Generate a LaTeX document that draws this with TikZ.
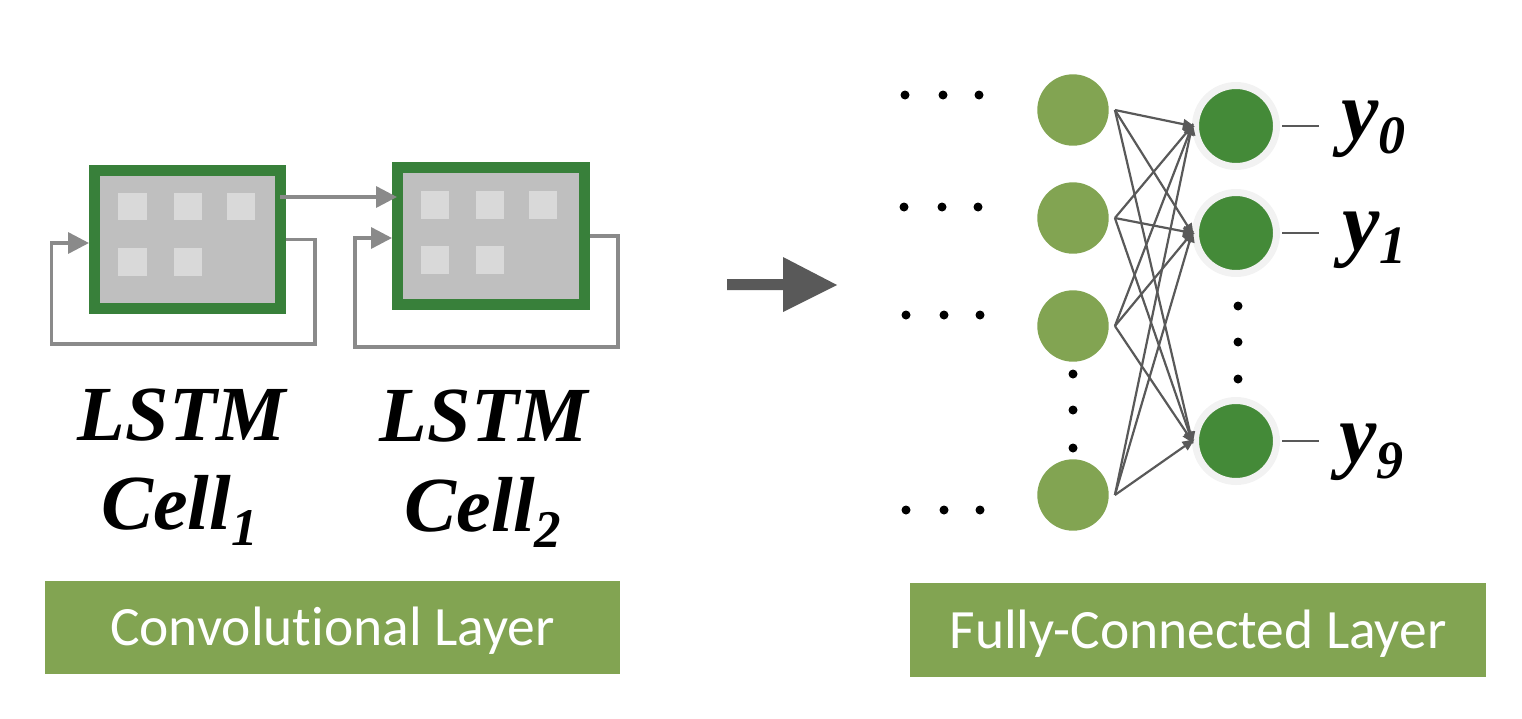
\documentclass[tikz,border=0pt]{standalone}
\usepackage{fontspec}
\setmainfont{Liberation Serif}
\newfontfamily\boxfont[Ligatures=NoCommon]{Carlito}
\usetikzlibrary{arrows.meta,calc}
\definecolor{cellgreen}{HTML}{38803A}
\definecolor{cellgray}{HTML}{BFBFBF}
\definecolor{sqgray}{HTML}{D9D9D9}
\definecolor{loopgray}{HTML}{8A8A8A}
\definecolor{olivegreen}{HTML}{82A452}
\definecolor{darkgreen}{HTML}{448A38}
\definecolor{ringgray}{HTML}{F2F2F2}
\definecolor{arrowgray}{HTML}{595959}
\newcommand\lowsub[3]{\raisebox{-#1pt}{\fontsize{#2}{#2}\selectfont #3}}
\begin{document}
\begin{tikzpicture}[x=1pt,y=-1pt,
  cell/.style={rectangle, draw=cellgreen, line width=11pt, fill=cellgray, inner sep=0pt},
  sq/.style={fill=sqgray},
  loopline/.style={draw=loopgray, line width=3.5pt, -{Triangle[length=21pt,width=21pt]}},
  lab/.style={font=\fontsize{78}{90}\selectfont\bfseries\itshape, inner sep=0pt},
  ylab/.style={font=\fontsize{84}{90}\selectfont\bfseries\itshape, inner sep=0pt},
  layerbox/.style={rectangle, fill=olivegreen, inner sep=0pt, text=white,
     font=\boxfont\fontsize{55.5}{60}\selectfont, text height=36pt, text depth=0pt},
  dotmark/.style={fill=black},
  lc/.style={circle, fill=olivegreen, minimum size=71.4pt, inner sep=0pt},
  rc/.style={circle, draw=ringgray, line width=7pt, fill=darkgreen, minimum size=81pt, inner sep=0pt},
  fcline/.style={draw=arrowgray, line width=2.2pt, -{Triangle[length=12pt,width=10pt]}, shorten >=-3pt},
  outline/.style={draw=arrowgray, line width=2.5pt}
]
\useasboundingbox (0,0) rectangle (1522,718);

% LSTM cells
\node[cell, minimum width=186pt, minimum height=138pt] (c1) at (187.5,239.5) {};
\node[cell, minimum width=187pt, minimum height=137pt] (c2) at (491,236) {};
% squares cell 1
\fill[sq] (118,193) rectangle (147,220);
\fill[sq] (174,193) rectangle (202,220);
\fill[sq] (227,193) rectangle (255,220);
\fill[sq] (118,248) rectangle (147,276);
\fill[sq] (174,248) rectangle (202,276);
% squares cell 2
\fill[sq] (421,191) rectangle (449,219);
\fill[sq] (476,191) rectangle (504,219);
\fill[sq] (529,191) rectangle (557,219);
\fill[sq] (421,246) rectangle (449,274);
\fill[sq] (476,246) rectangle (504,274);

% arrows around cells
\path (c1.north east) ++(-6,32) coordinate (o12);
\draw[loopline, shorten >=-5pt] (o12) -- (c2.west |- o12);
\draw[loopline] (c1.east) -| (315,344) -| (51.5,243) -- ([yshift=-3.5pt]c1.west);
\draw[loopline] (c2.east) -| (618,347) -| (355,238) -- ([yshift=-2pt]c2.west);

% labels
\node[lab, anchor=base] (lstm1) at (182,440) {LSTM};
\node[lab, anchor=base] (cell1) at (179.5,529) {Cell\lowsub{16}{53}{1}};
\node[lab, anchor=base] (lstm2) at (484,441) {LSTM};
\node[lab, anchor=base] (cell2) at (483,531) {Cell\lowsub{16}{53}{2}};

% layer boxes
\node[layerbox, minimum width=575pt, minimum height=93pt] (conv) at (332.5,627.5) {Convolutional Layer};
\node[layerbox, minimum width=575.5pt, minimum height=94pt] (fc) at (1198,630) {Fully-Connected Layer};

% big arrow
\fill[arrowgray] (727,279) -- (783,279) -- (783,257) -- (837,285) -- (783,312) -- (783,290) -- (727,290) -- cycle;

% horizontal dots
\foreach \yy/\dx in {95/0,207/-1,315/1,510/1}{
  \foreach \xx in {905,943,979}{
    \fill[dotmark] (\xx+\dx,\yy) circle (4.5);
  }
}

% circles
\node[lc] (l1) at (1073,110) {};
\node[lc] (l2) at (1073,218) {};
\node[lc] (l3) at (1073,326) {};
\node[lc] (l4) at (1073,495) {};
\node[rc] (r0) at (1236,126) {};
\node[rc] (r1) at (1236,233) {};
\node[rc] (r9) at (1236,441) {};

% vertical dots
\foreach \yy in {374,410,448}{ \fill[dotmark] (1073,\yy) circle (4.5); }
\foreach \yy in {306,342,379}{ \fill[dotmark] (1238,\yy) circle (4.5); }

% connections
\foreach \a in {l1,l2,l3,l4}{
  \foreach \b in {r0,r1,r9}{
    \draw[fcline] ([xshift=6pt]\a.east) -- (\b.west);
  }
}

% outputs
\node[ylab, anchor=base west] (t0) at (1341,139) {y\lowsub{14}{54}{0}};
\node[ylab, anchor=base west] (t1) at (1342,250) {y\lowsub{13}{54}{1}};
\node[ylab, anchor=base west] (t9) at (1339,462) {y\lowsub{16}{54}{9}};
\draw[outline, shorten <=2pt, shorten >=22pt] (r0.east) -- (r0.east -| t0.west);
\draw[outline, shorten <=2pt, shorten >=23pt] (r1.east) -- (r1.east -| t1.west);
\draw[outline, shorten <=2pt, shorten >=20pt] (r9.east) -- (r9.east -| t9.west);
\end{tikzpicture}
\end{document}
